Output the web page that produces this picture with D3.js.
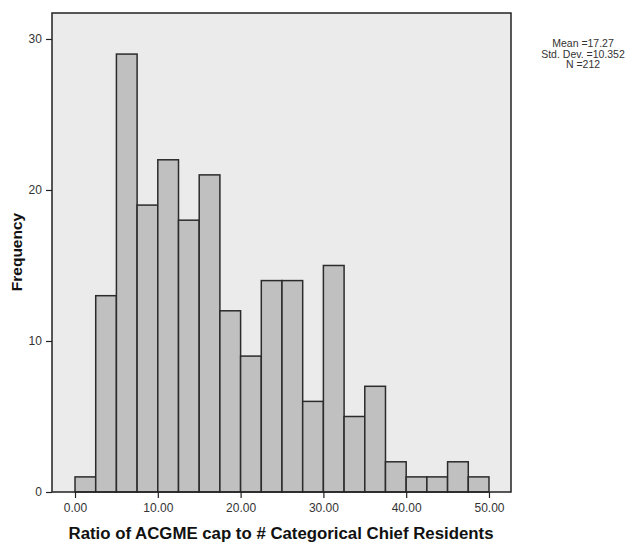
<!DOCTYPE html>
<html><head><meta charset="utf-8">
<script src="https://cdn.jsdelivr.net/npm/d3@7"></script>
<style>body{margin:0;background:#fff}svg{display:block}text{font-family:Arial,"Liberation Sans",sans-serif}</style>
</head><body>
<svg id="c" width="642" height="542"></svg>
<script>
const binStarts = [0,2.5,5,7.5,10,12.5,15,17.5,20,22.5,25,27.5,30,32.5,35,37.5,40,42.5,45,47.5];
const binWidth = 2.5;
const counts = [1,13,29,19,22,18,21,12,9,14,14,6,15,5,7,2,1,1,2,1];
const xTicks = [0,10,20,30,40,50];
const yTicks = [0,10,20,30];
const stats = ["Mean =17.27","Std. Dev. =10.352","N =212"];

const svg = d3.select("#c");
const L=52, R=511, T=13, B=492;
const x = d3.scaleLinear().domain([-2.78,52.66]).range([L,R]);
const y = d3.scaleLinear().domain([0,31.72]).range([B,T]);

svg.append("rect").attr("x",L).attr("y",T).attr("width",R-L).attr("height",B-T)
  .attr("fill","#ebebeb").attr("stroke","none");

svg.selectAll(".bar").data(binStarts).enter().append("rect")
  .attr("x",(d)=>x(d)).attr("width",(d)=>x(d+binWidth)-x(d))
  .attr("y",(d,i)=>y(counts[i])).attr("height",(d,i)=>y(0)-y(counts[i]))
  .attr("fill","#c0c0c0").attr("stroke","#2b2b2b").attr("stroke-width",1.5);

svg.append("rect").attr("x",L).attr("y",T).attr("width",R-L).attr("height",B-T)
  .attr("fill","none").attr("stroke","#222").attr("stroke-width",1.5);

const xa = svg.append("g").attr("transform",`translate(0,${B})`)
  .call(d3.axisBottom(x).tickValues(xTicks).tickFormat(d3.format(".2f")).tickSize(6).tickSizeOuter(0));
xa.select(".domain").remove();
xa.selectAll("line").attr("stroke","#222").attr("stroke-width",1.2);
xa.selectAll("text").attr("font-size",12).attr("fill","#333").attr("dy","0.95em");

const ya = svg.append("g").attr("transform",`translate(${L},0)`)
  .call(d3.axisLeft(y).tickValues(yTicks).tickFormat(d3.format("d")).tickSize(6).tickSizeOuter(0));
ya.select(".domain").remove();
ya.selectAll("line").attr("stroke","#222").attr("stroke-width",1.2);
ya.selectAll("text").attr("font-size",12).attr("fill","#333").attr("dx","-0.1em");

svg.append("text").attr("transform","translate(22,252) rotate(-90)")
  .attr("text-anchor","middle").attr("font-size",15.5).attr("font-weight","bold").attr("fill","#111")
  .text("Frequency");
svg.append("text").attr("x",281).attr("y",539).attr("text-anchor","middle")
  .attr("font-size",16).attr("font-weight","bold").attr("fill","#111")
  .attr("textLength",425).attr("lengthAdjust","spacingAndGlyphs")
  .text("Ratio of ACGME cap to # Categorical Chief Residents");

svg.selectAll(".st").data(stats).enter().append("text")
  .attr("x",583).attr("y",(d,i)=>47+i*10.5).attr("text-anchor","middle")
  .attr("font-size",10.5).attr("fill","#333").text(d=>d);
</script>
</body></html>
